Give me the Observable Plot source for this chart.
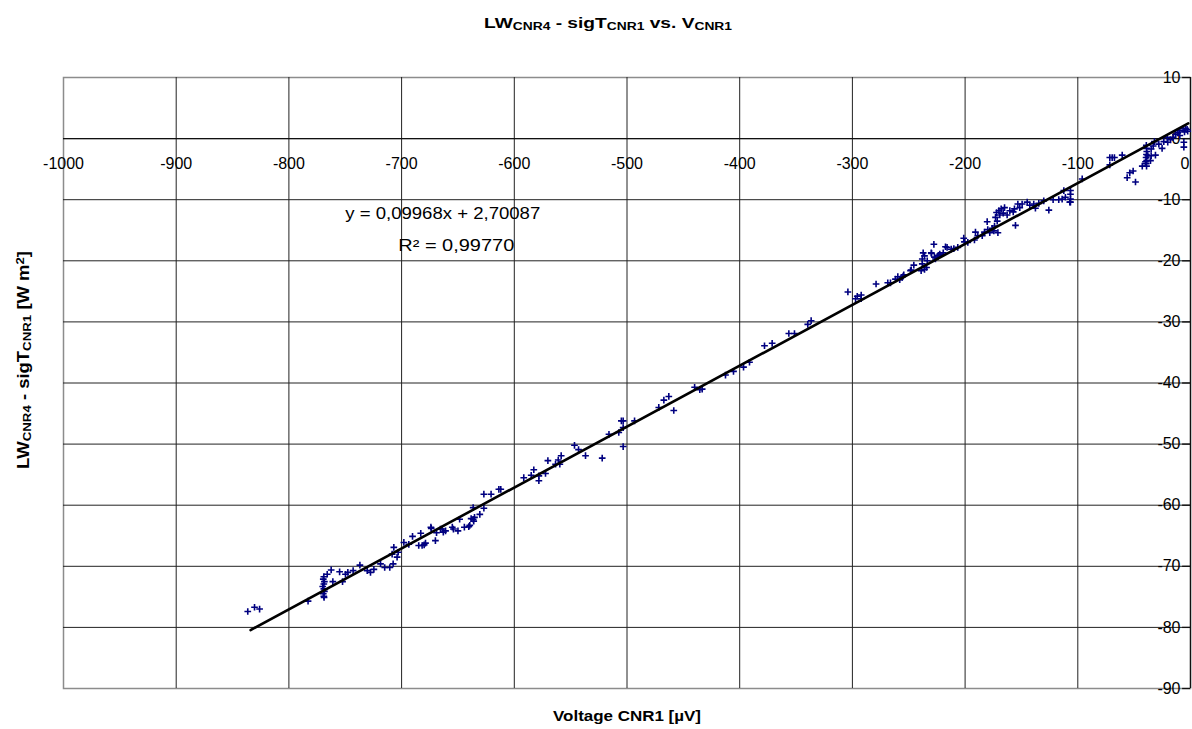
<!DOCTYPE html>
<html>
<head>
<meta charset="utf-8">
<script src="https://cdn.jsdelivr.net/npm/d3@7"></script>
<script src="https://cdn.jsdelivr.net/npm/@observablehq/plot@0.6"></script>
<style>
  html, body { margin: 0; padding: 0; background: #fff; }
  #chart svg { display: block; }
</style>
</head>
<body>
<div id="chart"></div>
<script>
// Voltage CNR1 [µV] (x) and LW_CNR4 - sigT_CNR1 [W m-2] (y)
const voltage = [
  -836.5, -830.5, -826, -783,
  -769, -769.5, -768.5, -769, -770, -769, -768.5, -769.5, -769, -768.8,
  -766, -762.5, -761, -755, -752.4, -749.8, -747.7, -743, -737, -730.5,
  -727.6, -724.6, -718.7, -715, -710.5, -707.5, -708.4, -704, -703, -706.9,
  -698, -693.6, -690.3, -684.8, -681.8, -683, -678.8, -680, -674, -673.7,
  -670, -669, -665.5, -664, -663, -661, -655, -654, -650, -648.5,
  -644.3, -640.4, -639.5, -638.3, -636.5, -636, -635.3, -636.5, -630.6, -627,
  -627, -620.6, -613.7, -612, -591.6, -585, -582.7, -578.2, -578.2, -572.3,
  -570.2, -563.4, -561, -559.6, -558.4, -546.6, -543, -536.8, -522, -516,
  -507.3, -505, -503.4, -503.4, -503.4, -493.3, -471.8, -467.3, -462.9, -458.5,
  -440, -435.4, -433.3, -412.6, -405.5, -396.6, -391.3, -378, -371.2, -356.4,
  -351.4, -339.6, -336.6, -304, -297.2, -295.7, -292.2, -292.2, -279, -268.6,
  -266.2, -261.8, -259.7, -258, -255.8, -255, -254.4, -248.4, -247.8, -245.5,
  -239, -238, -238, -237.2, -236, -236, -233.6, -234.2, -230, -229.8,
  -227.7, -227.2, -226.3, -224.2, -223.4, -222.5, -219.4, -217.4, -216, -212.3,
  -210, -206.5, -201.2, -200.6, -197.6, -191.7, -190.8, -188.7, -184.8, -182.8,
  -180.4, -179.9, -178.1, -176, -174.5, -173.9, -173, -172.1, -171.5, -170.9,
  -170, -169.2, -168, -166.2, -165, -162.7, -160.3, -157.3, -156.2, -155.3,
  -153.2, -151.5, -149.4, -144.9, -142.6, -139.1, -137.6, -134.6, -130.2, -125.7,
  -121.9, -116.9, -113.9, -112.4, -111, -107.1, -106.5, -106.5, -106.5, -106.5,
  -96.1, -71.6, -71.6, -69.5, -67.5, -60.6, -56.2, -53.9, -50.9, -48.8,
  -42.8, -39.2, -39, -38.8, -39.1, -39.4, -38.9, -39.3, -39, -39.9,
  -37.9, -35.5, -34.9, -31.1, -34.9, -33.1, -32, -28.1, -25.2, -23.7,
  -20.7, -20.2, -17.7, -15.4, -13.3, -11.2, -9.5, -6.5, -5.3, -4.4,
  -5.9, -5.9, -9.5, -3, -2.5
];
const lwDiff = [
  -77.4, -76.7, -77.0, -75.7,
  -71.7, -72.1, -72.5, -72.9, -73.3, -73.7, -74.1, -74.5, -74.9, -75.1,
  -71.3, -70.6, -72.5, -70.9, -72.5, -71.3, -71.0, -70.7, -69.8, -70.7,
  -71.0, -70.5, -69.6, -70.2, -70.2, -69.6, -68.0, -68.5, -67.7, -66.9,
  -66.1, -66.4, -65.1, -66.6, -66.6, -64.6, -66.2, -66.5, -63.6, -63.8,
  -65.8, -64.5, -63.9, -63.9, -64.4, -64.2, -63.6, -63.9, -64.2, -62.3,
  -63.6, -63.5, -63.3, -62.2, -62.3, -62.6, -62.0, -60.4, -61.5, -60.5,
  -58.2, -58.2, -57.4, -57.4, -55.5, -55.1, -54.2, -55.2, -56.0, -54.8,
  -52.7, -53.3, -52.6, -53.3, -51.9, -50.2, -50.9, -51.9, -52.3, -48.4,
  -48.1, -46.2, -46.2, -50.4, -47.3, -46.2, -44.0, -42.8, -42.2, -44.5,
  -40.7, -41.1, -41.0, -38.7, -38.1, -37.4, -36.6, -33.9, -33.5, -31.9,
  -31.9, -30.4, -29.8, -25.1, -26.2, -25.8, -25.6, -26.2, -23.8, -23.6,
  -23.6, -23.0, -22.6, -23.1, -22.7, -22.5, -22.3, -21.6, -21.5, -20.7,
  -21.6, -20.5, -19.7, -18.7, -19.2, -21.4, -20.0, -21.1, -18.7, -18.8,
  -17.3, -19.4, -19.7, -19.2, -19.1, -18.9, -18.7, -17.7, -17.8, -18.1,
  -18.0, -17.8, -16.3, -16.9, -17.0, -16.6, -15.3, -15.9, -15.9, -15.3,
  -13.6, -14.9, -15.4, -14.7, -15.1, -14.3, -12.9, -12.1, -13.5, -15.4,
  -11.8, -12.5, -11.5, -12.2, -11.3, -12.5, -11.8, -12.0, -11.5, -14.2,
  -10.7, -11.3, -10.7, -10.4, -10.9, -10.7, -11.4, -10.6, -10.2, -11.7,
  -10.0, -10.0, -9.9, -8.5, -9.6, -10.4, -8.5, -9.1, -9.9, -10.4,
  -6.6, -4.3, -3.1, -3.1, -3.1, -2.7, -6.4, -5.6, -5.3, -7.1,
  -4.5, -1.1, -1.6, -2.1, -2.6, -3.1, -3.6, -4.1, -4.5, -3.8,
  -2.8, -3.6, -2.8, -2.7, -1.7, -1.2, -0.5, -0.9, -1.6, -0.5,
  0.2, -0.6, -0.2, 0.2, 0.7, 1.0, 1.3, 1.6, 1.1, 1.7,
  -0.6, -1.4, 0.5, 1.5, 1.2
];
// Linear trend line endpoints (as drawn)
const trendX = [-834, -2];
const trendY = [-80.43, 2.50];
// Axis ticks
const xTicks = [-1000, -900, -800, -700, -600, -500, -400, -300, -200, -100, 0];
const yTicks = [10, 0, -10, -20, -30, -40, -50, -60, -70, -80, -90];
const equationText = "y = 0,09968x + 2,70087";
const r2Text = "R² = 0,99770";

const points = voltage.map((v, i) => ({x: v, y: lwDiff[i]}));
const trend = trendX.map((v, i) => ({x: v, y: trendY[i]}));
const innerX = xTicks.filter(d => d !== -1000 && d !== 0);
const innerY = yTicks.filter(d => d !== 10 && d !== -90);
const xLabelsMain = xTicks.filter(d => d !== 0);
const xLabelsEdge = xTicks.filter(d => d === 0);

const FONT = "'Liberation Sans', Arial, sans-serif";

const plot = Plot.plot({
  width: 1192,
  height: 729,
  marginLeft: 63,
  marginRight: 2,
  marginTop: 77,
  marginBottom: 41,
  style: {fontFamily: FONT, background: "#fff", overflow: "visible"},
  x: {domain: [-1000, 0], axis: null},
  y: {domain: [-90, 10], axis: null},
  marks: [
    Plot.frame({stroke: "#8c8c8c", strokeWidth: 1.5}),
    Plot.ruleX(innerX, {stroke: "#222", strokeWidth: 1}),
    Plot.ruleY(innerY, {stroke: "#222", strokeWidth: 1}),
    Plot.ruleY([0], {stroke: "#111", strokeWidth: 1.3}),
    Plot.ruleX([0], {stroke: "#111", strokeWidth: 1.3}),
    Plot.ruleY(yTicks, {x1: -7, x2: 0, stroke: "#111", strokeWidth: 1.3}),
    Plot.text(xLabelsMain, {x: d => d, y: 0, dy: 25, text: d => String(d), fontSize: 16, fill: "#000"}),
    Plot.text(xLabelsEdge, {x: d => d, y: 0, dy: 25, dx: -1, textAnchor: "end", text: d => String(d), fontSize: 16, fill: "#000"}),
    Plot.text(yTicks, {x: 0, y: d => d, dx: -10, textAnchor: "end", text: d => String(d), fontSize: 16, fill: "#000"}),
    Plot.text([equationText], {x: -663.5, y: -12.4, text: d => d, fontSize: 16, fill: "#000"}),
    Plot.text([r2Text], {x: -651.5, y: -17.6, text: d => d, fontSize: 16, fill: "#000"}),
    Plot.dot(points, {x: "x", y: "y", symbol: "plus", r: 2.3, stroke: "#000080", strokeWidth: 1.6, fill: "none"}),
    Plot.line(trend, {x: "x", y: "y", stroke: "#000", strokeWidth: 2.6})
  ]
});

document.getElementById("chart").appendChild(plot);

const svg = d3.select(plot);
// Stretch annotation texts to match the reference widths
svg.selectAll("text").each(function () {
  const t = this.textContent;
  if (t === equationText) { d3.select(this).attr("textLength", 195).attr("lengthAdjust", "spacingAndGlyphs"); }
  if (t === r2Text) { d3.select(this).attr("textLength", 116).attr("lengthAdjust", "spacingAndGlyphs"); }
});

function addRich(parent, parts, opts) {
  const t = parent.append("text")
    .attr("font-family", FONT)
    .attr("font-weight", "bold")
    .attr("font-size", opts.size)
    .attr("fill", "#000")
    .attr("text-anchor", "middle")
    .attr("transform", opts.transform);
  if (opts.length) t.attr("textLength", opts.length).attr("lengthAdjust", "spacingAndGlyphs");
  for (const [s, kind] of parts) {
    const ts = t.append("tspan").text(s);
    if (kind === "sub") ts.attr("font-size", opts.size * 0.72).attr("baseline-shift", "-18%");
    if (kind === "sup") ts.attr("font-size", opts.size * 0.72).attr("baseline-shift", "40%");
  }
  return t;
}

addRich(svg, [["LW"], ["CNR4", "sub"], [" - sigT"], ["CNR1", "sub"], [" vs. V"], ["CNR1", "sub"]],
  {size: 15.5, transform: "translate(608,28)", length: 248});
addRich(svg, [["Voltage CNR1 [µV]"]],
  {size: 15, transform: "translate(627,721)", length: 148});
addRich(svg, [["LW"], ["CNR4", "sub"], [" - sigT"], ["CNR1", "sub"], [" [W m"], ["2", "sup"], ["]"]],
  {size: 16, transform: "translate(29,360) rotate(-90)", length: 218});
</script>
</body>
</html>
